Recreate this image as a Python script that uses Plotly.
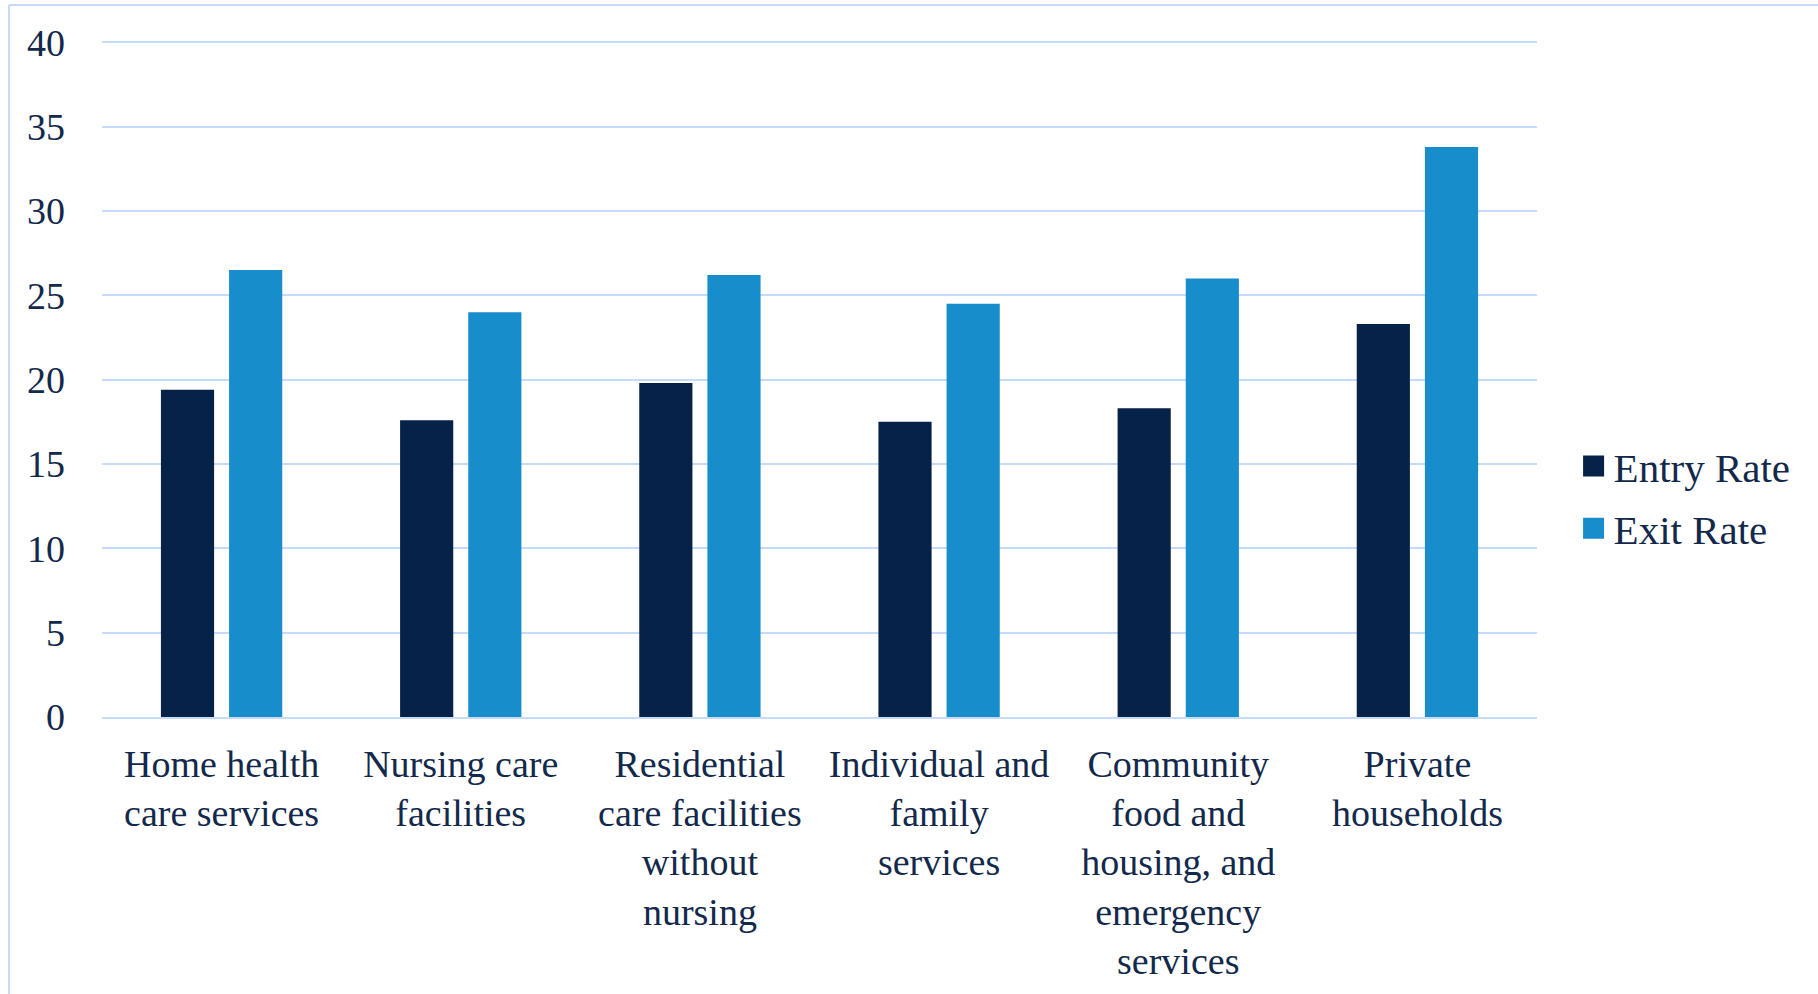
import plotly.graph_objects as go

categories = [
    "Home health<br>care services",
    "Nursing care<br>facilities",
    "Residential<br>care facilities<br>without<br>nursing",
    "Individual and<br>family<br>services",
    "Community<br>food and<br>housing, and<br>emergency<br>services",
    "Private<br>households",
]
entry_rate = [19.4, 17.6, 19.8, 17.5, 18.3, 23.3]
exit_rate = [26.5, 24.0, 26.2, 24.5, 26.0, 33.8]
y_ticks = [0, 5, 10, 15, 20, 25, 30, 35, 40]

ENTRY_COLOR = "#072249"
EXIT_COLOR = "#188dcb"
TEXT_COLOR = "#13294b"
GRID_COLOR = "#c6dbf7"
FONT = "Liberation Serif"
FS = 38

fig = go.Figure()
fig.add_trace(go.Bar(name="Entry Rate", x=categories, y=entry_rate,
                     marker=dict(color=ENTRY_COLOR, line=dict(width=0)),
                     showlegend=False, legendgroup="e"))
fig.add_trace(go.Bar(name="Exit Rate", x=categories, y=exit_rate,
                     marker=dict(color=EXIT_COLOR, line=dict(width=0)),
                     showlegend=False, legendgroup="x"))
# legend entries with larger square swatches
fig.add_trace(go.Scatter(name="Entry Rate", x=[None], y=[None], mode="markers",
                         marker=dict(symbol="square", size=16, color=ENTRY_COLOR,
                                     line=dict(color=ENTRY_COLOR, width=6)),
                         legendgroup="e"))
fig.add_trace(go.Scatter(name="Exit Rate", x=[None], y=[None], mode="markers",
                         marker=dict(symbol="square", size=16, color=EXIT_COLOR,
                                     line=dict(color=EXIT_COLOR, width=6)),
                         legendgroup="x"))

fig.update_layout(
    width=1818, height=994,
    margin=dict(l=102, r=281, t=39, b=277, autoexpand=False),
    paper_bgcolor="white", plot_bgcolor="white",
    font=dict(family=FONT, size=FS, color=TEXT_COLOR),
    barmode="group", bargap=0.43, bargroupgap=0.22,
    legend=dict(x=1.0255, xanchor="left", y=0.324, yanchor="middle",
                font=dict(family=FONT, size=41, color=TEXT_COLOR),
                tracegroupgap=6, itemsizing="trace",
                bgcolor="rgba(0,0,0,0)"),
    shapes=[
        dict(type="line", xref="paper", yref="paper", x0=-0.0648, x1=1.3, y0=1.0501, y1=1.0501,
             line=dict(color=GRID_COLOR, width=2)),
        dict(type="line", xref="paper", yref="paper", x0=-0.0648, x1=-0.0648, y0=1.0501, y1=-0.5,
             line=dict(color=GRID_COLOR, width=2)),
    ],
)
fig.update_xaxes(
    type="category", tickangle=0, showgrid=False,
    showline=True, linecolor=GRID_COLOR, linewidth=2,
    ticks="", ticklabelstandoff=12,
    tickfont=dict(family=FONT, size=FS, color=TEXT_COLOR),
)
fig.update_yaxes(
    range=[0, 40.2], tickvals=y_ticks, ticktext=[str(v) for v in y_ticks],
    showgrid=True, gridcolor=GRID_COLOR, gridwidth=2,
    zeroline=False, showline=False, ticks="", ticklabelstandoff=36,
    tickfont=dict(family=FONT, size=FS, color=TEXT_COLOR),
)

fig.write_html("out.html", config={"displayModeBar": False},
               post_script="document.body.style.margin='0';")
